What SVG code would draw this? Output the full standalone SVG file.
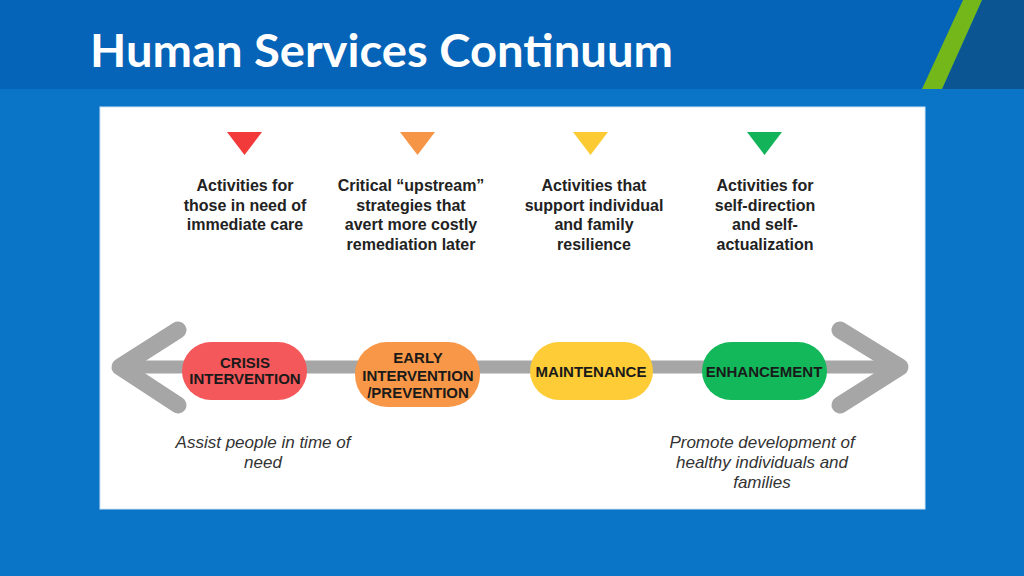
<svg xmlns="http://www.w3.org/2000/svg" width="1024" height="576" viewBox="0 0 1024 576">
  <defs>
    <style>
      .head { font-family: "Liberation Sans", Arial, sans-serif; font-weight: bold; font-size: 16px; fill: #222222; text-anchor: middle; }
      .pill { font-family: "Liberation Sans", Arial, sans-serif; font-weight: bold; font-size: 15px; fill: #1a1a1a; text-anchor: middle; }
      .note { font-family: "Liberation Sans", Arial, sans-serif; font-style: italic; font-size: 17px; fill: #333333; text-anchor: middle; }
      .arrow { fill: none; stroke: #a6a6a6; stroke-linecap: round; stroke-linejoin: round; }
    </style>
  </defs>
  <!-- background -->
  <rect x="0" y="0" width="1024" height="576" fill="#0a74c6"/>
  <rect x="0" y="0" width="1024" height="89" fill="#0563b8"/>
  <polygon points="982,0 1024,0 1024,89 942,89" fill="#0b5592"/>
  <polygon points="963,0 982,0 942,89 922,89" fill="#74b71b"/>
  <text x="90" y="67" font-family="Lato, 'Liberation Sans', Arial, sans-serif" font-weight="bold" font-size="46" fill="#ffffff" textLength="583" lengthAdjust="spacingAndGlyphs">Human Services Continuum</text>
  <!-- panel -->
  <rect x="100" y="107" width="825" height="402" fill="#ffffff" stroke="#cfe4f6" stroke-width="1"/>

  <!-- connectors -->
  <g id="connectors">
    <line class="arrow" x1="125" y1="367" x2="895" y2="367" stroke-width="13"/>
    <polyline class="arrow" points="178,330 120,367 178,405" stroke-width="17"/>
    <polyline class="arrow" points="840,330 900,367 840,405" stroke-width="17"/>
  </g>

  <!-- column headings -->
  <g id="col-crisis-desc">
    <polygon points="227,132 262,132 244.5,155" fill="#f23a3a"/>
    <text class="head" x="245" y="191">Activities for</text>
    <text class="head" x="245" y="211">those in need of</text>
    <text class="head" x="245" y="230">immediate care</text>
  </g>
  <g id="col-early-desc">
    <polygon points="400,132 435,132 417.5,155" fill="#f79546"/>
    <text class="head" x="411" y="191">Critical “upstream”</text>
    <text class="head" x="411" y="211">strategies that</text>
    <text class="head" x="411" y="230">avert more costly</text>
    <text class="head" x="411" y="250">remediation later</text>
  </g>
  <g id="col-maint-desc">
    <polygon points="573,132 608,132 590.5,155" fill="#fccb34"/>
    <text class="head" x="594" y="191">Activities that</text>
    <text class="head" x="594" y="211">support individual</text>
    <text class="head" x="594" y="230">and family</text>
    <text class="head" x="594" y="250">resilience</text>
  </g>
  <g id="col-enh-desc">
    <polygon points="747,132 782,132 764.5,155" fill="#13b459"/>
    <text class="head" x="765" y="191">Activities for</text>
    <text class="head" x="765" y="211">self-direction</text>
    <text class="head" x="765" y="230">and self-</text>
    <text class="head" x="765" y="250">actualization</text>
  </g>

  <!-- pills -->
  <g id="crisis">
    <rect x="182" y="342" width="125" height="58" rx="29" fill="#f4585a"/>
    <text class="pill" x="245" y="368">CRISIS</text>
    <text class="pill" x="245" y="384">INTERVENTION</text>
  </g>
  <g id="early">
    <rect x="355" y="342" width="125" height="65" rx="32" fill="#f79747"/>
    <text class="pill" x="418" y="363">EARLY</text>
    <text class="pill" x="418" y="381">INTERVENTION</text>
    <text class="pill" x="418" y="398">/PREVENTION</text>
  </g>
  <g id="maintenance">
    <rect x="530" y="342" width="123" height="58" rx="29" fill="#fdcc37"/>
    <text class="pill" x="591" y="377">MAINTENANCE</text>
  </g>
  <g id="enhancement">
    <rect x="702" y="342" width="125" height="58" rx="29" fill="#13b85a"/>
    <text class="pill" x="764" y="377">ENHANCEMENT</text>
  </g>

  <!-- notes -->
  <g id="note-left">
    <text class="note" x="263" y="448">Assist people in time of</text>
    <text class="note" x="263" y="468">need</text>
  </g>
  <g id="note-right">
    <text class="note" x="762" y="448">Promote development of</text>
    <text class="note" x="762" y="468">healthy individuals and</text>
    <text class="note" x="762" y="488">families</text>
  </g>
</svg>
